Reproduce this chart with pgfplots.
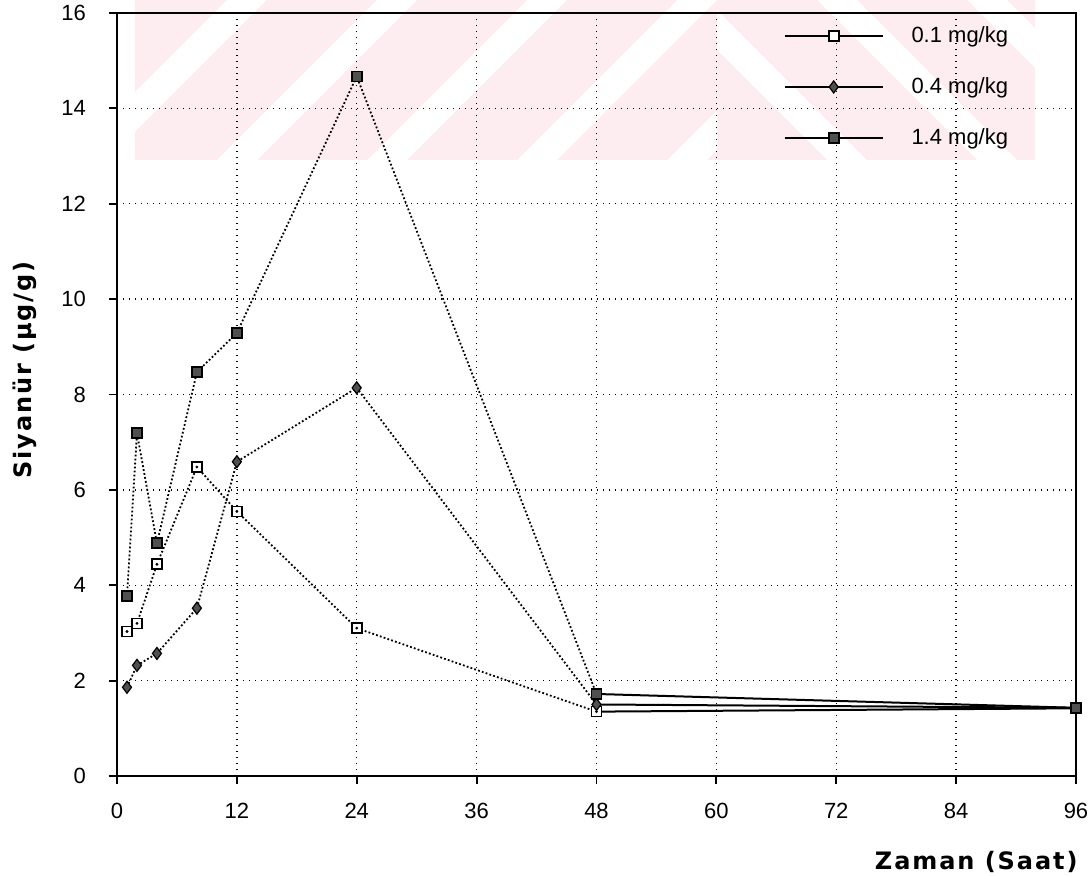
\documentclass[border=0pt]{standalone}
\usepackage{fontspec}
\setmainfont{Liberation Sans}
\newfontfamily\labelfont[LetterSpace=8]{DejaVu Sans}
\usepackage{pgfplots}
\pgfplotsset{compat=1.18}

\definecolor{wmpink}{RGB}{253,236,240}
\definecolor{markgray}{RGB}{80,80,80}

% concentration over time, three doses
\pgfplotstableread{
t    c
1    3.03
2    3.20
4    4.44
8    6.48
12   5.55
24   3.10
48   1.35
}\doseA
\pgfplotstableread{
t    c
48   1.35
96   1.42
}\doseAtail
\pgfplotstableread{
t    c
1    1.86
2    2.32
4    2.57
8    3.52
12   6.59
24   8.14
48   1.50
}\doseB
\pgfplotstableread{
t    c
48   1.50
96   1.43
}\doseBtail
\pgfplotstableread{
t    c
1    3.77
2    7.19
4    4.88
8    8.47
12   9.29
24   14.67
48   1.72
}\doseC
\pgfplotstableread{
t    c
48   1.72
96   1.43
}\doseCtail

\begin{document}
\begin{tikzpicture}
\useasboundingbox (-58.5pt,-49.5pt) rectangle (487.5pt,388pt);

% light pink background band at the top
\begin{scope}
  \clip (9pt,308pt) rectangle (300pt,388pt);
  \foreach \s in {-80,-5,70,145,220,295} {
    \fill[wmpink] (\s pt,308pt) -- ++(55pt,0pt) -- ++(80pt,80pt) -- ++(-55pt,0pt) -- cycle;
  }
\end{scope}
\begin{scope}
  \clip (300pt,308pt) rectangle (459pt,388pt);
  \foreach \s in {300,375,450,525} {
    \fill[wmpink] (\s pt,308pt) -- ++(55pt,0pt) -- ++(-80pt,80pt) -- ++(-55pt,0pt) -- cycle;
  }
\end{scope}

\begin{axis}[
  at={(0pt,0pt)}, anchor=south west,
  scale only axis, width=479.5pt, height=381.5pt,
  xmin=0, xmax=96, ymin=0, ymax=16,
  xtick={0,12,...,96}, ytick={0,2,...,16},
  tick pos=left, tick align=outside, major tick length=4pt,
  axis line style={line width=1pt},
  tick style={black, line width=0.9pt},
  grid=major,
  major grid style={black, line width=0.7pt, dash pattern=on 0.7pt off 2.3pt},
  ticklabel style={font=\fontsize{11}{13}\selectfont},
  /pgf/number format/assume math mode=true,
  xticklabel style={yshift=-6pt},
  yticklabel style={xshift=-8pt},
  xlabel={\labelfont\bfseries Zaman (Saat)},
  ylabel={\labelfont\bfseries Siyanür (µg/g)},
  xlabel style={at={(axis description cs:0.896,-0.1127)}, anchor=center,
                font=\fontsize{12}{14}\selectfont},
  ylabel style={at={(axis description cs:-0.0959,0.532)}, anchor=center,
                font=\fontsize{12}{14}\selectfont},
  legend cell align=left,
  legend style={draw=none, fill=none, at={(rel axis cs:0.695,0.988)}, anchor=north west,
                inner sep=0pt, row sep=12pt,
                font=\fontsize{11}{13}\selectfont,
                /tikz/every odd column/.append style={column sep=12pt}},
  legend image code/.code={
    \draw[solid, line width=0.8pt, mark repeat=2, mark phase=2]
      plot coordinates {(0pt,0pt) (24.5pt,0pt) (49pt,0pt)};
  },
]
% 0.1 mg/kg
\addplot[black, line width=0.9pt, dash pattern=on 0.9pt off 1.1pt,
  mark=square*, mark size=2.5pt, mark options={solid, fill=white, line width=0.8pt}]
  table[x=t, y=c] {\doseA};
\addlegendentry{0.1 mg/kg}
% 0.4 mg/kg
\addplot[black, line width=0.9pt, dash pattern=on 0.9pt off 1.1pt,
  mark=diamond*, mark size=3pt, mark options={solid, fill=markgray, line width=0.6pt}]
  table[x=t, y=c] {\doseB};
\addlegendentry{0.4 mg/kg}
% 1.4 mg/kg
\addplot[black, line width=0.9pt, dash pattern=on 0.9pt off 1.1pt,
  mark=square*, mark size=2.5pt, mark options={solid, fill=markgray, line width=0.8pt}]
  table[x=t, y=c] {\doseC};
\addlegendentry{1.4 mg/kg}

% plateau segments
\addplot[forget plot, black, line width=1pt, mark=none] table[x=t, y=c] {\doseAtail};
\addplot[forget plot, black, line width=1pt, mark=none] table[x=t, y=c] {\doseBtail};
\addplot[forget plot, black, line width=1pt, mark=square*, mark size=2.5pt,
  mark options={fill=markgray, line width=0.8pt}, mark indices={2}] table[x=t, y=c] {\doseCtail};

% centre dots of the open squares
\addplot[forget plot, only marks, mark=*, mark size=0.5pt, black] table[x=t, y=c] {\doseA};
\end{axis}
\end{tikzpicture}
\end{document}
